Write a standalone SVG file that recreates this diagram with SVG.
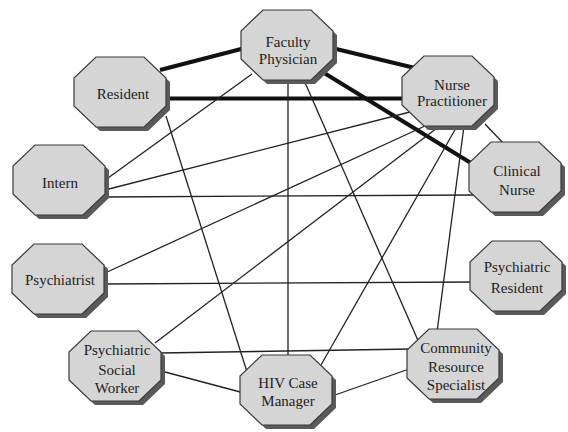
<svg xmlns="http://www.w3.org/2000/svg" xmlns:xlink="http://www.w3.org/1999/xlink" width="568" height="432" viewBox="0 0 568 432">
<defs>
<style>
.thick{stroke:#111;stroke-width:4;fill:none;stroke-linecap:butt}
.thin{stroke:#222;stroke-width:1.3;fill:none}
.body{fill:#d5d5d5;stroke:#3a3a3a;stroke-width:1.2}
.shadow{fill:#5a5a5a}
text{font-family:"Liberation Serif","Times New Roman",serif;font-size:15px;fill:#222;text-anchor:middle}
</style>
<polygon id="oct" points="-24,-35 24,-35 46,-14 46,14 24,35 -24,35 -46,14 -46,-14"/>
</defs>
<rect width="568" height="432" fill="#fff"/>
<g id="connectors">
<line class="thick" x1="160" y1="70" x2="245" y2="48"/>
<line class="thick" x1="165" y1="98.5" x2="405" y2="98.5"/>
<line class="thick" x1="332" y1="48" x2="415" y2="68"/>
<line class="thick" x1="325" y1="73.5" x2="475" y2="165.5"/>
<line class="thin" x1="252" y1="74" x2="108" y2="178"/>
<line class="thin" x1="288" y1="78" x2="288" y2="360"/>
<line class="thin" x1="303" y1="78" x2="420" y2="345"/>
<line class="thin" x1="166" y1="116" x2="248" y2="375"/>
<line class="thin" x1="105" y1="190" x2="410" y2="112"/>
<line class="thin" x1="105" y1="197" x2="475" y2="195"/>
<line class="thin" x1="105" y1="273" x2="425" y2="126"/>
<line class="thin" x1="105" y1="284" x2="475" y2="282"/>
<line class="thin" x1="155" y1="343" x2="437" y2="128"/>
<line class="thin" x1="160" y1="353" x2="412" y2="349"/>
<line class="thin" x1="165" y1="372" x2="244" y2="393"/>
<line class="thin" x1="321" y1="365" x2="456" y2="128"/>
<line class="thin" x1="437" y1="332" x2="464" y2="126"/>
<line class="thin" x1="485" y1="124" x2="506" y2="146"/>
<line class="thin" x1="335" y1="395" x2="412" y2="368"/>
</g>
<g id="faculty-physician" transform="translate(287,45)">
<use href="#oct" class="shadow" x="4" y="4"/><use href="#oct" class="body"/>
<text x="1" y="2">Faculty</text><text x="1" y="19">Physician</text>
</g>
<g id="resident" transform="translate(120,92)">
<use href="#oct" class="shadow" x="4" y="4"/><use href="#oct" class="body"/>
<text x="3" y="7">Resident</text>
</g>
<g id="nurse-practitioner" transform="translate(448,91)">
<use href="#oct" class="shadow" x="4" y="4"/><use href="#oct" class="body"/>
<text x="4" y="-1">Nurse</text><text x="4" y="15">Practitioner</text>
</g>
<g id="intern" transform="translate(59,180)">
<use href="#oct" class="shadow" x="4" y="4"/><use href="#oct" class="body"/>
<text x="1" y="8">Intern</text>
</g>
<g id="clinical-nurse" transform="translate(515,177)">
<use href="#oct" class="shadow" x="4" y="4"/><use href="#oct" class="body"/>
<text x="2" y="-1">Clinical</text><text x="2" y="18">Nurse</text>
</g>
<g id="psychiatrist" transform="translate(58,279)">
<use href="#oct" class="shadow" x="4" y="4"/><use href="#oct" class="body"/>
<text x="2" y="6">Psychiatrist</text>
</g>
<g id="psychiatric-resident" transform="translate(516,276)">
<use href="#oct" class="shadow" x="4" y="4"/><use href="#oct" class="body"/>
<text x="1" y="-4">Psychiatric</text><text x="1" y="17">Resident</text>
</g>
<g id="psychiatric-social-worker" transform="translate(115,366)">
<use href="#oct" class="shadow" x="4" y="4"/><use href="#oct" class="body"/>
<text x="2" y="-11">Psychiatric</text><text x="2" y="9">Social</text><text x="2" y="27">Worker</text>
</g>
<g id="hiv-case-manager" transform="translate(286,390)">
<use href="#oct" class="shadow" x="4" y="4"/><use href="#oct" class="body"/>
<text x="2" y="-2">HIV Case</text><text x="2" y="16">Manager</text>
</g>
<g id="community-resource-specialist" transform="translate(453,364)">
<use href="#oct" class="shadow" x="4" y="4"/><use href="#oct" class="body"/>
<text x="3" y="-11">Community</text><text x="3" y="8">Resource</text><text x="3" y="26">Specialist</text>
</g>
</svg>
